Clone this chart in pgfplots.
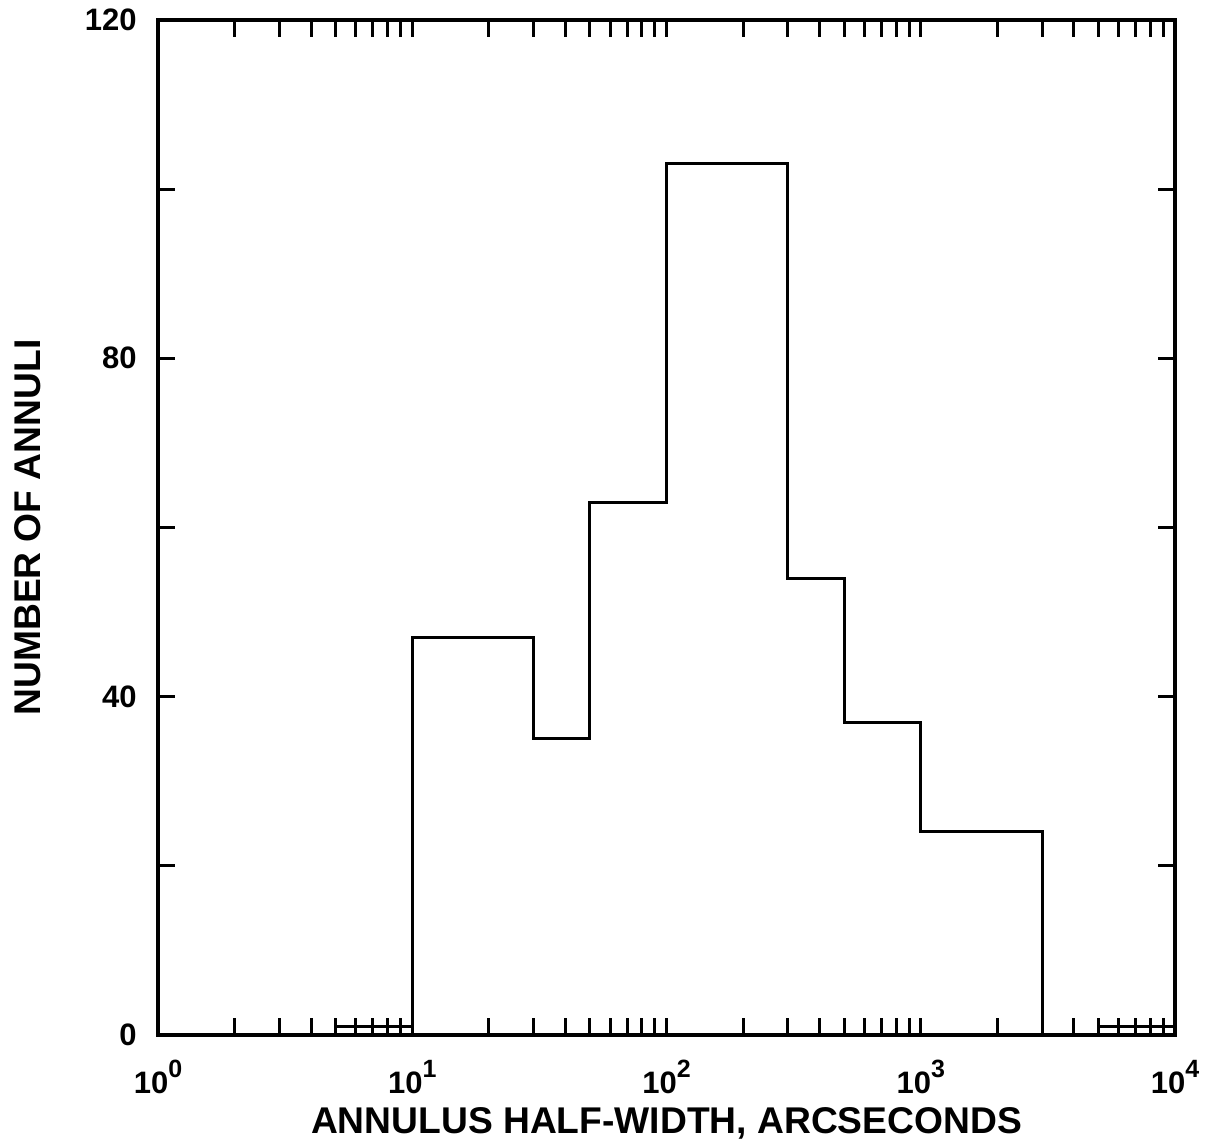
\documentclass[border=0pt]{standalone}
\usepackage{pgfplots}
\pgfplotsset{compat=1.18}
\usepackage{fontspec}
\setmainfont{Liberation Sans}
\newcommand{\ex}[1]{10\raisebox{0.5em}{\fontsize{12.5}{14}\selectfont\bfseries #1}}
\begin{document}
\begin{tikzpicture}
\begin{axis}[
  scale only axis, width=508.5pt, height=507.5pt,
  xmode=log, xmin=1, xmax=10000, ymin=0, ymax=120,
  xtick={1,10,100,1000,10000},
  xticklabels={\ex{0},\ex{1},\ex{2},\ex{3},\ex{4}},
  minor xtick={2,3,4,5,6,7,8,9,20,30,40,50,60,70,80,90,200,300,400,500,600,700,800,900,2000,3000,4000,5000,6000,7000,8000,9000},
  ytick={0,40,80,120}, minor ytick={20,60,100},
  yticklabels={0,40,80,120},
  tick align=inside,
  major tick length=8.5pt, minor tick length=8.5pt,
  every tick/.style={black, line width=1.5pt},
  every major tick/.style={black, line width=1.5pt},
  every minor tick/.style={black, line width=1.5pt},
  axis line style={line width=1.6pt},
  tick label style={font=\fontsize{15.5}{18}\selectfont\bfseries},
  xticklabel style={inner sep=0pt, anchor=north, yshift=-12.5pt},
  yticklabel style={inner sep=0pt, anchor=east, xshift=-10.5pt},
  label style={font=\fontsize{18.6}{22}\selectfont\bfseries},
  xlabel={ANNULUS HALF-WIDTH, ARCSECONDS},
  ylabel={NUMBER OF ANNULI},
  xlabel style={at={(axis description cs:0.5,-0.0966)}, anchor=base, inner sep=0pt},
  ylabel style={at={(axis description cs:-0.1283,0.5)}, anchor=center, rotate=0, inner sep=0pt},
]
\addplot[const plot, black, line width=1.5pt] coordinates {
  (1,0) (5,1) (10,47) (30,35) (50,63) (100,103) (300,54) (500,37) (1000,24) (3000,0) (5000,1) (10000,1)
};
\end{axis}
\pgfresetboundingbox
\path ([shift={(-79pt,-55.5pt)}]current axis.south west) rectangle ([shift={(18pt,10pt)}]current axis.north east);
\end{tikzpicture}
\end{document}
